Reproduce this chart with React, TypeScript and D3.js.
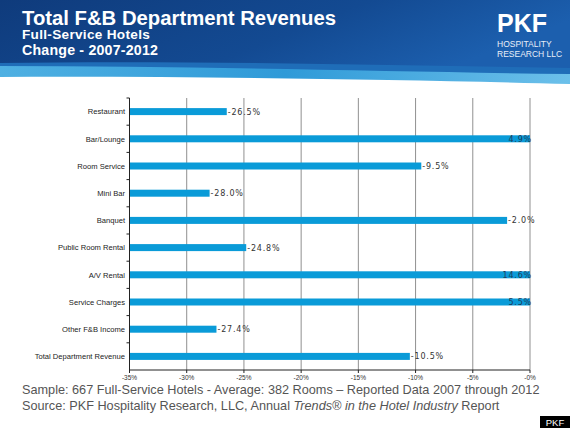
import React from "react";
import * as d3 from "d3";

const categories = [
  "Restaurant",
  "Bar/Lounge",
  "Room Service",
  "Mini Bar",
  "Banquet",
  "Public Room Rental",
  "A/V Rental",
  "Service Charges",
  "Other F&B Income",
  "Total Department Revenue",
];
const values = [-26.5, 4.9, -9.5, -28.0, -2.0, -24.8, 14.6, 5.5, -27.4, -10.5];
const ticks = [-35, -30, -25, -20, -15, -10, -5, 0];
const tickLabels = ["-35%", "-30%", "-25%", "-20%", "-15%", "-10%", "-5%", "-0%"];

const W = 570;
const H = 428;

export default function App() {
  const x = d3.scaleLinear().domain([-35, 0]).range([129.5, 530]);
  const y = d3.scaleBand<string>().domain(categories).range([98, 370]).padding(0);
  const barH = 7;
  const bw = y.bandwidth();
  const font = "'Liberation Sans', Arial, sans-serif";

  return (
    <svg
      width={W}
      height={H}
      style={{ position: "absolute", left: 0, top: 0, background: "#fff" }}
      xmlns="http://www.w3.org/2000/svg"
    >
      <defs>
        <linearGradient id="hdr" x1="0" y1="0" x2="1" y2="0.3">
          <stop offset="0" stopColor="#0f3b7c" />
          <stop offset="0.6" stopColor="#134a92" />
          <stop offset="1" stopColor="#1c5fae" />
        </linearGradient>
        <linearGradient id="lite" x1="0" y1="0" x2="1" y2="0">
          <stop offset="0" stopColor="#4fb0e2" />
          <stop offset="0.5" stopColor="#2f9ad8" />
          <stop offset="1" stopColor="#6cc0ea" />
        </linearGradient>
      </defs>
      {/* header */}
      <path d="M0,62 L570,62 L570,84 C420,80 200,76 0,77 Z" fill="url(#lite)" />
      <path d="M0,0 L570,0 L570,74 C400,72 200,66 0,66 Z" fill="#1f6db8" />
      <path d="M0,0 L570,0 L570,68 C420,66 200,60 0,63 Z" fill="url(#hdr)" />
      <text x={22} y={24.5} fill="#fff" fontFamily={font} fontWeight="bold" fontSize={20.3}>
        Total F&amp;B Department Revenues
      </text>
      <text x={22} y={39} fill="#fff" fontFamily={font} fontWeight="bold" fontSize={13.6} letterSpacing={0.3}>
        Full-Service Hotels
      </text>
      <text x={22} y={55} fill="#fff" fontFamily={font} fontWeight="bold" fontSize={14.2} letterSpacing={0.2}>
        Change - 2007-2012
      </text>
      {/* logo */}
      <text x={497} y={32} fill="#fff" fontFamily={font} fontWeight="bold" fontSize={25}>
        PKF
      </text>
      <text x={497} y={47} fill="#e8eef8" fontFamily={font} fontSize={8.5}>
        HOSPITALITY
      </text>
      <text x={497} y={57} fill="#e8eef8" fontFamily={font} fontSize={8.5}>
        RESEARCH LLC
      </text>

      {/* gridlines */}
      {ticks.slice(1).map((t) => (
        <line key={"g" + t} x1={x(t)} x2={x(t)} y1={98} y2={370} stroke="#909090" strokeWidth={1} />
      ))}

      {/* bars */}
      {categories.map((c, i) => {
        const v = values[i];
        const end = x(Math.min(v, 0));
        const cy = (y(c) as number) + bw / 2;
        return (
          <rect key={"b" + c} x={x(-35)} y={cy - barH / 2} width={end - x(-35)} height={barH} fill="#0a9bd8" />
        );
      })}

      {/* value labels */}
      {categories.map((c, i) => {
        const v = values[i];
        const cy = (y(c) as number) + bw / 2;
        const txt = v.toFixed(1) + "%";
        if (v >= 0) {
          return (
            <text
              key={"v" + c}
              x={x(0) + 2}
              y={cy + 3}
              textAnchor="end"
              fill="#1d3d5c"
              fontFamily="'DejaVu Sans', sans-serif"
              fontSize={8}
              letterSpacing={0.8}
            >
              {txt}
            </text>
          );
        }
        return (
          <text
            key={"v" + c}
            x={x(v) + 1}
            y={cy + 3}
            fill="#333"
            fontFamily="'DejaVu Sans', sans-serif"
            fontSize={8}
            letterSpacing={0.8}
          >
            {txt}
          </text>
        );
      })}

      {/* y axis */}
      <line x1={x(-35)} x2={x(-35)} y1={98} y2={370} stroke="#222" strokeWidth={1} />
      {categories.map((c) => (
        <line key={"yt" + c} x1={x(-35) - 3} x2={x(-35)} y1={y(c) as number} y2={y(c) as number} stroke="#222" />
      ))}
      {categories.map((c) => (
        <text
          key={"yl" + c}
          x={125}
          y={(y(c) as number) + bw / 2 + 2.7}
          textAnchor="end"
          fill="#222"
          fontFamily={font}
          fontSize={7.6}
        >
          {c}
        </text>
      ))}

      {/* x axis */}
      <line x1={x(-35)} x2={x(0)} y1={370} y2={370} stroke="#222" strokeWidth={1} />
      {ticks.map((t, i) => (
        <g key={"xt" + t}>
          <line x1={x(t)} x2={x(t)} y1={370} y2={373} stroke="#222" />
          <text x={x(t)} y={380} textAnchor="middle" fill="#333" fontFamily={font} fontSize={6.5}>
            {tickLabels[i]}
          </text>
        </g>
      ))}

      {/* footer */}
      <text x={22} y={394} fill="#555" fontFamily={font} fontSize={12.7}>
        Sample: 667 Full-Service Hotels - Average: 382 Rooms – Reported Data 2007 through 2012
      </text>
      <text x={22} y={410} fill="#555" fontFamily={font} fontSize={12.7}>
        Source: PKF Hospitality Research, LLC, Annual <tspan fontStyle="italic">Trends® in the Hotel Industry</tspan> Report
      </text>
      <rect x={540} y={416} width={30} height={12} fill="#000" />
      <text x={555} y={425.5} textAnchor="middle" fill="#fff" fontFamily={font} fontSize={9.5}>
        PKF
      </text>
    </svg>
  );
}
